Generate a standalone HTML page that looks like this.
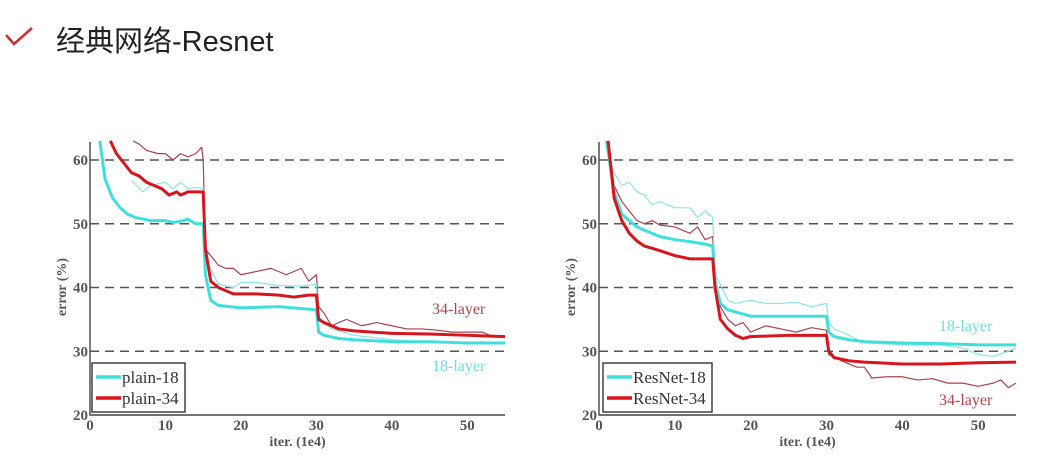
<!DOCTYPE html>
<html><head><meta charset="utf-8"><style>
body{margin:0;background:#fff;width:1064px;height:463px;overflow:hidden;font-family:"Liberation Sans","Noto Sans CJK SC",sans-serif}
#title{position:absolute;left:56px;top:18px;font-size:29px;color:#222}
svg text{font-family:"Liberation Serif",serif}
</style></head><body>
<svg style="position:absolute;left:4px;top:26px" width="32" height="22"><path d="M2 9 L10 18 L28 2" fill="none" stroke="#d0303a" stroke-width="2.6"/></svg>
<div id="title">经典网络-Resnet</div>
<svg id="chart" width="1064" height="463" style="position:absolute;left:0;top:0"></svg>
<script>
const xTicks=[0,10,20,30,40,50];
const yTicks=[20,30,40,50,60];
const plain18=[[1.3,63],[2,57],[3,54],[4,52.5],[5,51.5],[6,51],[8,50.5],[10,50.5],[11,50.2],[12,50.4],[13,50.7],[14,50],[15,50],[15.3,42],[16,38],[17,37.2],[20,36.8],[25,37],[30,36.5],[30.3,33],[31,32.5],[33,32],[35,31.8],[40,31.5],[45,31.5],[50,31.3],[55,31.3]];
const plain18Thin=[[5.5,56.8],[7,55],[8,56],[10,56.5],[11,55.5],[12,56.5],[13,55.5],[14,55.7],[15,55.5],[15.3,44],[16,43],[17,40.5],[19,40],[20,40.8],[22,40.8],[25,40.3],[28,40.2],[30,40.5],[30.3,35.5],[32,33.5],[35,32.5],[40,31.8],[45,31.4],[50,31.3],[52,31.5],[55,31.3]];
const plain34=[[2.7,63],[3.5,61],[4.5,59.5],[5.5,58],[6.5,57.5],[7.5,56.5],[8.5,56],[9.5,55.5],[10.5,54.5],[11.5,55],[12,54.5],[13,55],[15,55],[15.3,46],[16,41],[17,40],[19,39],[22,39],[25,38.8],[27,38.5],[29,38.8],[30,38.8],[30.3,35],[31,34.5],[33,33.5],[35,33.2],[40,32.8],[45,32.7],[50,32.5],[55,32.3]];
const plain34Thin=[[5.7,63],[6.5,62.5],[7.5,61.5],[9,61],[10,61],[11,60],[12,61],[13,60.5],[14,61],[14.8,62],[15,60],[15.3,46],[16,45],[17,43.5],[18,43],[19,43],[20,42],[22,42.5],[24,43],[26,42],[28,43],[29,41],[30,42],[30.3,37],[31,36],[32,34],[33,34.5],[34,35],[36,34],[38,34.5],[40,34],[42,33.5],[44,33.5],[46,33.3],[48,33],[50,33],[52,33],[53,32.5],[55,32.3]];
const res18=[[1,63],[2,55],[3,51.5],[4,50.5],[5,49.5],[6,49],[8,48],[10,47.5],[12,47.2],[14,46.8],[15,46.5],[15.3,41],[16,37.5],[17,36.5],[20,35.5],[25,35.5],[30,35.5],[30.3,33],[31,32.3],[33,31.8],[35,31.5],[40,31.3],[45,31.2],[50,31],[55,31]];
const res18Thin=[[1,62],[2,58],[3,56],[4,56.5],[5,55],[6,54.5],[7,53],[8,53.5],[10,52.5],[12,52.5],[13,51],[14,52],[15,51],[15.3,42],[16,40.5],[17,38],[18,37.5],[20,38],[22,37.5],[24,37.5],[26,37.7],[28,37],[30,37.5],[30.3,34.5],[31,33.5],[32,33],[33,32.5],[35,31.3],[40,31],[45,31],[48,30.5],[50,29.5],[52,29.2],[54,30],[55,30.5]];
const res34=[[1.2,63],[2,54],[3,50.5],[4,48.5],[5,47.3],[6,46.5],[8,45.8],[10,45],[12,44.5],[14,44.5],[15,44.5],[15.3,40],[16,35],[17,33.5],[18,32.5],[19,32],[20,32.3],[25,32.5],[30,32.5],[30.3,30],[31,29],[33,28.5],[35,28.3],[40,28],[45,28],[50,28.2],[55,28.3]];
const res34Thin=[[1.2,63],[2,56],[3,53.5],[4,52],[5,50.5],[6,50],[7,50.5],[8,49.8],[10,49.5],[12,48.5],[13,49.5],[14,47.5],[15,48],[15.3,40],[16,37],[17,35],[18,34],[19,34.5],[20,33],[22,34],[24,33.5],[26,33],[28,33.7],[30,33.3],[30.3,29.5],[32,28.5],[34,27.5],[35,27.5],[36,25.8],[38,26],[40,26],[42,25.5],[44,25.7],[46,25],[48,25],[50,24.5],[52,25],[53,25.5],[54,24.3],[55,25]];
const NS='http://www.w3.org/2000/svg';
const svg=document.getElementById('chart');
function mk(tag,attrs,parent,txt){const e=document.createElementNS(NS,tag);for(const k in attrs)e.setAttribute(k,attrs[k]);if(txt!==undefined)e.textContent=txt;parent.appendChild(e);return e;}
function chart(cfg){
  const g=mk('g',{},svg);
  
  
  const X=v=>cfg.x0+v*(cfg.x1-cfg.x0)/55, Y=v=>160+(60-v)*255/40;
  yTicks.forEach(t=>{if(t>20&&t<=60){const l=mk('line',{x1:X(0),x2:X(55),y1:Y(t),y2:Y(t),stroke:'#555','stroke-width':1.4,'stroke-dasharray':'9,6'},g);}
    const tx=mk('text',{x:X(0)-2,y:Y(t)+5,'text-anchor':'end','font-size':15,'font-weight':'bold',fill:'#555'},g,t);});
  xTicks.forEach(t=>{const tx=mk('text',{x:X(t),y:Y(20)+15,'text-anchor':'middle','font-size':15,'font-weight':'bold',fill:'#555'},g,t);});
  const ax=mk('path',{d:`M${X(0)} 142 V${Y(20)} H${X(55)}`,fill:'none',stroke:'#444','stroke-width':1.4},g);
  const xl=mk('text',{x:(X(0)+X(55))/2,y:446,'text-anchor':'middle','font-size':14,'font-weight':'bold',fill:'#555'},g,'iter. (1e4)');
  const yl=mk('text',{x:0,y:0,'text-anchor':'middle','font-size':14,'font-weight':'bold',fill:'#555',transform:`translate(${X(0)-24},287) rotate(-90)`},g,'error (%)');
  cfg.series.forEach(s=>{const p=mk('polyline',{points:s.d.map(q=>X(q[0])+','+Y(q[1])).join(' '),fill:'none',stroke:s.c,'stroke-width':s.w,'stroke-linejoin':'round'},g);});
  const lb=mk('rect',{x:cfg.lx,y:363,width:cfg.lw,height:49,fill:'#fff',stroke:'#333','stroke-width':1.4},g);
  cfg.legend.forEach((L,i)=>{const yy=377+i*21;const ll=mk('line',{x1:cfg.lx+4,x2:cfg.lx+29,y1:yy,y2:yy,stroke:L.c,'stroke-width':3.5},g);
    const lt=mk('text',{x:cfg.lx+30,y:yy+6,'font-size':17,fill:'#333'},g,L.t);});
  cfg.labels.forEach(L=>{const t=mk('text',{x:L.x,y:L.y,'font-size':16,fill:L.c},g,L.t);});
}
const CY='#3fe0dc',RD='#d8141c',CYT='#8ae6e0',RDT='#b0404e';
chart({name:'plain-chart',x0:90,x1:505,lx:92,lw:93,
 series:[{d:plain34Thin,c:RDT,w:1.2,n:'plain-34-train'},{d:plain18Thin,c:CYT,w:1.2,n:'plain-18-train'},{d:plain18,c:CY,w:3,n:'plain-18-val'},{d:plain34,c:RD,w:3,n:'plain-34-val'}],
 legend:[{c:CY,t:'plain-18'},{c:RD,t:'plain-34'}],
 labels:[{x:432,y:314,t:'34-layer',c:'#b8404a',n:'label-34-layer'},{x:432,y:371,t:'18-layer',c:'#6ee0dc',n:'label-18-layer'}]});
chart({name:'resnet-chart',x0:599,x1:1016,lx:603,lw:109,
 series:[{d:res34Thin,c:RDT,w:1.2,n:'resnet-34-train'},{d:res18Thin,c:CYT,w:1.2,n:'resnet-18-train'},{d:res18,c:CY,w:3,n:'resnet-18-val'},{d:res34,c:RD,w:3,n:'resnet-34-val'}],
 legend:[{c:CY,t:'ResNet-18'},{c:RD,t:'ResNet-34'}],
 labels:[{x:939,y:331,t:'18-layer',c:'#6ee0dc',n:'label-18-layer'},{x:939,y:405,t:'34-layer',c:'#b8404a',n:'label-34-layer'}]});
</script>
</body></html>
